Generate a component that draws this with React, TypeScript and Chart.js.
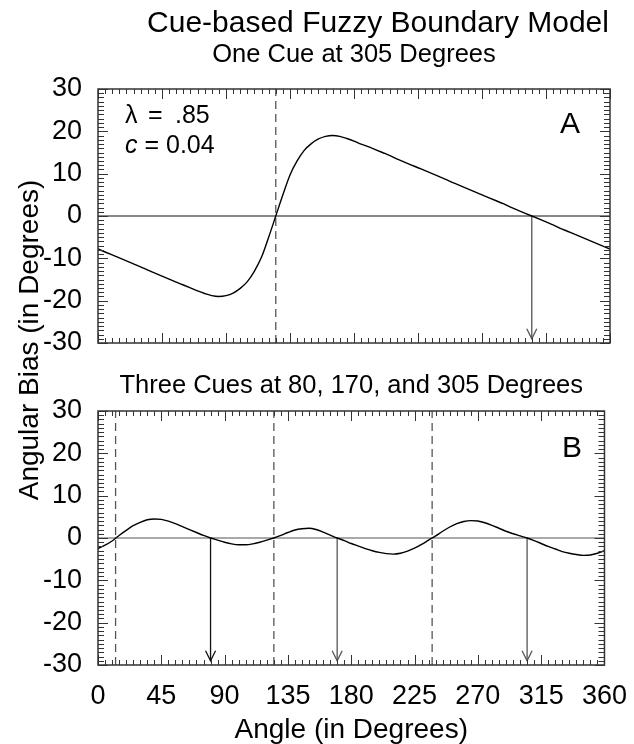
import React, { useEffect, useRef } from "react";
import { Chart, registerables } from "chart.js";

Chart.register(...registerables);

// ---------------- data ----------------
const angles = [
  0, 5, 10, 15, 20, 25, 30, 35, 40, 45, 50, 55, 60, 65, 70, 75, 80, 85, 90, 95,
  100, 105, 110, 115, 120, 125, 130, 135, 140, 145, 150, 155, 160, 165, 170, 175,
  180, 185, 190, 195, 200, 205, 210, 215, 220, 225, 230, 235, 240, 245, 250, 255,
  260, 265, 270, 275, 280, 285, 290, 295, 300, 305, 310, 315, 320, 325, 330, 335,
  340, 345, 350, 355, 360,
];

const biasOneCue = [
  -7.8, -8.5, -9.2, -9.9, -10.6, -11.3, -12.0, -12.8, -13.5, -14.2, -14.9, -15.6,
  -16.3, -17.0, -17.7, -18.3, -18.8, -19.0, -18.8, -18.2, -17.1, -15.5, -13.0,
  -9.7, -5.0, 0, 5.0, 9.7, 13.0, 15.5, 17.1, 18.2, 18.8, 19.0, 18.8, 18.3, 17.7,
  17.0, 16.4, 15.7, 15.0, 14.3, 13.5, 12.8, 12.1, 11.4, 10.7, 10.0, 9.3, 8.6, 7.8,
  7.1, 6.4, 5.7, 5.0, 4.3, 3.6, 2.9, 2.1, 1.4, 0.7, 0, -0.7, -1.4, -2.1, -2.9,
  -3.6, -4.3, -5.0, -5.7, -6.4, -7.1, -7.8,
];

const biasThreeCues = [
  -2.5, -1.7, -0.7, 0.6, 1.8, 2.9, 3.7, 4.3, 4.5, 4.4, 4.0, 3.4, 2.7, 2.0, 1.3,
  0.6, 0, -0.5, -1.0, -1.4, -1.6, -1.6, -1.4, -1.0, -0.5, 0, 0.6, 1.3, 1.9, 2.2,
  2.3, 2.0, 1.4, 0.7, 0, -0.6, -1.3, -1.9, -2.5, -3.0, -3.4, -3.7, -3.8, -3.6,
  -3.1, -2.4, -1.5, -0.5, 0.5, 1.6, 2.6, 3.4, 3.9, 4.1, 4.0, 3.6, 3.0, 2.3, 1.6,
  1.0, 0.5, 0, -0.6, -1.3, -2.0, -2.6, -3.2, -3.6, -3.9, -4.1, -4.0, -3.6, -3.0,
];

const cuesA = [305];
const cuesB = [80, 170, 305];
const boundariesA = [125];
const boundariesB = [12.5, 125, 237.5];

const xTickLabels = [0, 45, 90, 135, 180, 225, 270, 315, 360];
const yTickLabels = [-30, -20, -10, 0, 10, 20, 30];
const X_MIN = 0;
const X_MAX = 360;
const Y_MIN = -30;
const Y_MAX = 30;
const ARROW_END = -29;

const mainTitle = "Cue-based Fuzzy Boundary Model";
const subtitleA = "One Cue at 305 Degrees";
const subtitleB = "Three Cues at 80, 170, and 305 Degrees";
const yTitle = "Angular Bias (in Degrees)";
const xTitle = "Angle (in Degrees)";
const lambdaParts = ["\u03bb", "=", ".85"];
const cValueText = " = 0.04";

// ---------------- styling helpers ----------------
const FAMILY = "'Liberation Sans', Arial, Helvetica, sans-serif";
const font = (size: number, style = "") => `${style} ${size}px ${FAMILY}`.trim();

function buildDatasets(
  values: number[],
  cues: number[],
  bounds: number[],
  zeroColor: string,
  arrowColors: string[]
) {
  const ds: any[] = [
    {
      data: angles.map((a, i) => ({ x: a, y: values[i] })),
      borderColor: "#000",
      borderWidth: 1.4,
      pointRadius: 0,
      cubicInterpolationMode: "monotone",
    },
    {
      data: [
        { x: X_MIN, y: 0 },
        { x: X_MAX, y: 0 },
      ],
      borderColor: zeroColor,
      borderWidth: 1.2,
      pointRadius: 0,
    },
  ];
  bounds.forEach((b) =>
    ds.push({
      data: [
        { x: b, y: Y_MIN },
        { x: b, y: Y_MAX },
      ],
      borderColor: "#555",
      borderWidth: 1.3,
      borderDash: [8, 5],
      pointRadius: 0,
    })
  );
  cues.forEach((c, i) =>
    ds.push({
      data: [
        { x: c, y: 0 },
        { x: c, y: ARROW_END },
      ],
      borderColor: arrowColors[i],
      borderWidth: 1.3,
      pointRadius: 0,
      isArrow: true,
    })
  );
  return ds;
}

// frame, minor/major inward ticks, arrow heads
const framePlugin = {
  id: "frameTicks",
  afterDatasetsDraw(chart: any) {
    const { ctx, chartArea } = chart;
    const xs = chart.scales.x;
    const ys = chart.scales.y;
    const { left, right, top, bottom } = chartArea;
    ctx.save();
    chart.data.datasets.forEach((d: any, i: number) => {
      if (!d.isArrow) return;
      const pt = chart.getDatasetMeta(i).data[1];
      ctx.strokeStyle = d.borderColor;
      ctx.lineWidth = 1.3;
      ctx.beginPath();
      ctx.moveTo(pt.x - 5, pt.y - 10);
      ctx.lineTo(pt.x, pt.y);
      ctx.lineTo(pt.x + 5, pt.y - 10);
      ctx.stroke();
    });
    ctx.strokeStyle = "#333";
    ctx.lineWidth = 1;
    ctx.beginPath();
    for (let v = X_MIN; v <= X_MAX; v += 5) {
      const px = Math.round(xs.getPixelForValue(v)) + 0.5;
      const len = v % 45 === 0 ? 10 : 5;
      ctx.moveTo(px, bottom);
      ctx.lineTo(px, bottom - len);
      ctx.moveTo(px, top);
      ctx.lineTo(px, top + len);
    }
    for (let v = Y_MIN; v <= Y_MAX; v += 1) {
      const py = Math.round(ys.getPixelForValue(v)) + 0.5;
      const len = v % 10 === 0 ? 10 : 6;
      ctx.moveTo(left, py);
      ctx.lineTo(left + len, py);
      ctx.moveTo(right, py);
      ctx.lineTo(right - len, py);
    }
    ctx.stroke();
    ctx.lineWidth = 1.5;
    ctx.strokeStyle = "#333";
    ctx.strokeRect(left, top, right - left, bottom - top);
    ctx.restore();
  },
};

function textPlugin(draw: (ctx: CanvasRenderingContext2D, chart: any) => void) {
  return {
    id: "texts",
    afterDraw(chart: any) {
      const ctx = chart.ctx as CanvasRenderingContext2D;
      ctx.save();
      ctx.fillStyle = "#000";
      draw(ctx, chart);
      ctx.restore();
    },
  };
}

function yScale() {
  return {
    type: "linear",
    position: "left",
    min: Y_MIN,
    max: Y_MAX,
    afterBuildTicks: (s: any) => {
      s.ticks = yTickLabels.map((v) => ({ value: v }));
    },
    ticks: {
      font: { size: 27, family: FAMILY },
      color: "#000",
      padding: 8,
    },
    grid: { display: false },
    border: { display: false },
    afterFit: (s: any) => {
      s.width = 98;
    },
  };
}

export default function App() {
  const refA = useRef<HTMLCanvasElement>(null);
  const refB = useRef<HTMLCanvasElement>(null);

  useEffect(() => {
    const chartA = new Chart(refA.current as HTMLCanvasElement, {
      type: "line",
      data: {
        datasets: buildDatasets(biasOneCue, cuesA, boundariesA, "#111", ["#555"]),
      },
      options: {
        responsive: false,
        devicePixelRatio: 1,
        animation: false,
        events: [],
        layout: { autoPadding: false, padding: { top: 89, bottom: 401, left: 0, right: 24 } },
        plugins: { legend: { display: false }, tooltip: { enabled: false } },
        scales: {
          x: { type: "linear", min: X_MIN, max: X_MAX, display: false },
          y: yScale(),
        },
      } as any,
      plugins: [
        framePlugin,
        textPlugin((ctx, chart) => {
          ctx.textBaseline = "alphabetic";
          ctx.textAlign = "center";
          ctx.font = font(30);
          ctx.fillText(mainTitle, 378, 32);
          ctx.font = font(25.5);
          const ca = chart.chartArea;
          ctx.fillText(subtitleA, (ca.left + ca.right) / 2, 62);
          // panel label
          ctx.font = font(30);
          ctx.fillText("A", 570, 133);
          // parameters
          ctx.textAlign = "left";
          ctx.font = font(25);
          ctx.fillText(lambdaParts[0], 125, 123);
          ctx.fillText(lambdaParts[1], 148, 123);
          ctx.fillText(lambdaParts[2], 175, 123);
          ctx.font = font(25, "italic");
          ctx.fillText("c", 125, 153);
          const cw = ctx.measureText("c").width;
          ctx.font = font(25);
          ctx.fillText(cValueText, 125 + cw, 153);
          // y axis title
          ctx.translate(38, 340);
          ctx.rotate(-Math.PI / 2);
          ctx.textAlign = "center";
          ctx.font = font(28);
          ctx.fillText(yTitle, 0, 0);
        }),
      ],
    });

    const chartB = new Chart(refB.current as HTMLCanvasElement, {
      type: "line",
      data: {
        datasets: buildDatasets(biasThreeCues, cuesB, boundariesB, "#555", [
          "#111",
          "#555",
          "#555",
        ]),
      },
      options: {
        responsive: false,
        devicePixelRatio: 1,
        animation: false,
        events: [],
        layout: { autoPadding: false, padding: { top: 411, bottom: 0, left: 0, right: 24 } },
        plugins: { legend: { display: false }, tooltip: { enabled: false } },
        scales: {
          x: {
            type: "linear",
            min: X_MIN,
            max: X_MAX,
            afterBuildTicks: (s: any) => {
              s.ticks = xTickLabels.map((v) => ({ value: v }));
            },
            ticks: {
              font: { size: 27, family: FAMILY },
              color: "#000",
              padding: 7,
              autoSkip: false,
              maxRotation: 0,
            },
            grid: { display: false },
            border: { display: false },
            title: {
              display: true,
              text: xTitle,
              color: "#000",
              font: { size: 28, family: FAMILY },
              padding: { top: 0, bottom: -3 },
            },
            afterFit: (s: any) => {
              s.height = 79;
            },
          },
          y: yScale(),
        },
      } as any,
      plugins: [
        framePlugin,
        textPlugin((ctx, chart) => {
          const ca = chart.chartArea;
          ctx.textBaseline = "alphabetic";
          ctx.textAlign = "center";
          ctx.font = font(25.5);
          ctx.fillText(subtitleB, (ca.left + ca.right) / 2, 393);
          ctx.font = font(30);
          ctx.fillText("B", 572, 457);
        }),
      ],
    });

    return () => {
      chartA.destroy();
      chartB.destroy();
    };
  }, []);

  return (
    <div
      style={{
        position: "absolute",
        left: 0,
        top: 0,
        width: 634,
        height: 744,
        background: "#fff",
      }}
    >
      <canvas
        ref={refA}
        width={634}
        height={744}
        style={{ position: "absolute", left: 0, top: 0 }}
      />
      <canvas
        ref={refB}
        width={634}
        height={744}
        style={{ position: "absolute", left: 0, top: 0 }}
      />
    </div>
  );
}
